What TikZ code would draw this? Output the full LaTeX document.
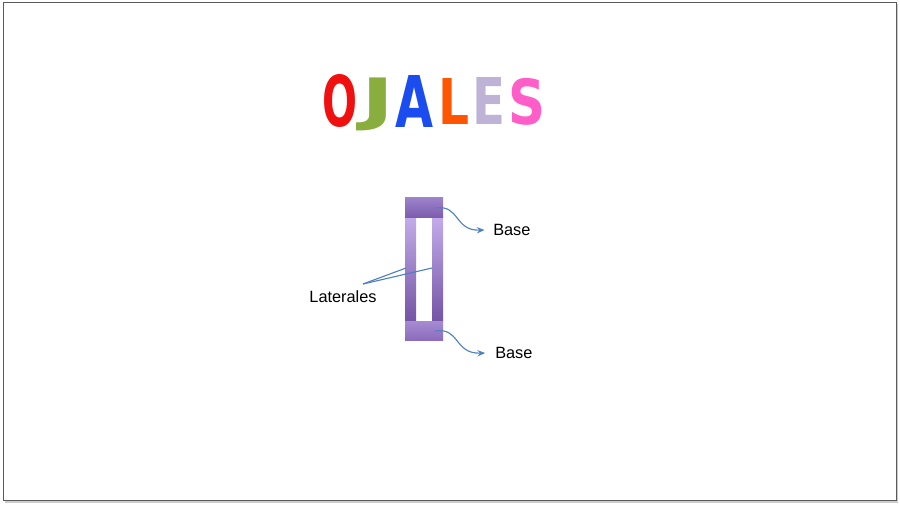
\documentclass[tikz,border=0pt]{standalone}
\usepackage{fontspec}
\usepackage{tikz}
\usetikzlibrary{arrows.meta}
\setmainfont{Liberation Sans}
\newfontfamily\titlefont{DejaVu Sans}

\definecolor{flecha}{HTML}{4F81BD}
\definecolor{marco}{HTML}{5A5A5A}

\begin{document}
\begin{tikzpicture}[x=0.025cm, y=-0.025cm,
    letra/.style={font=\titlefont\bfseries, inner sep=0pt, anchor=north west},
    etiqueta/.style={font=\fontsize{11.6}{13}\selectfont, inner sep=0pt},
    flechab/.style={flecha, thick, -{Stealth[length=5.5pt, width=4.5pt]}},
    linea/.style={flecha, thick}]
    \useasboundingbox (0, 0) rectangle (900, 506);
    \fill [gray!40] (5, 4) rectangle (898, 503);
    \draw [marco, fill=white] (3, 2) rectangle (896, 500);

    % titulo
    \node (o) [letra, text={rgb,255:red,240;green,16;blue,16}] at (322, 74) {\resizebox*{0.875cm}{1.325cm}{O}};
    \node (j) [letra, text={rgb,255:red,138;green,174;blue,62}] at (361, 78) {\resizebox*{0.825cm}{1.325cm}{J}};
    \node (a) [letra, text={rgb,255:red,26;green,76;blue,240}] at (395, 75) {\resizebox*{0.95cm}{1.3cm}{A}};
    \node (l) [letra, text={rgb,255:red,255;green,85;blue,0}] at (438, 78) {\resizebox*{0.775cm}{1.15cm}{L}};
    \node (e) [letra, text={rgb,255:red,190;green,179;blue,214}] at (472, 77) {\resizebox*{0.825cm}{1.175cm}{E}};
    \node (s) [letra, text={rgb,255:red,255;green,94;blue,200}] at (508, 78) {\resizebox*{0.925cm}{1.175cm}{S}};

    % ojal
    \shade [top color={rgb,255:red,196;green,173;blue,234}, bottom color={rgb,255:red,116;green,84;blue,166}] (405, 216) rectangle (416, 321);
    \shade [top color={rgb,255:red,196;green,173;blue,234}, bottom color={rgb,255:red,116;green,84;blue,166}] (432, 216) rectangle (443, 321);
    \shade [top color={rgb,255:red,158;green,132;blue,204}, bottom color={rgb,255:red,125;green,93;blue,174}] (405, 197) rectangle (443, 217);
    \shade [top color={rgb,255:red,166;green,140;blue,210}, bottom color={rgb,255:red,139;green,108;blue,188}] (405, 321) rectangle (443, 340);

    \coordinate (supBase) at (435, 208);
    \coordinate (infBase) at (435, 331);
    \coordinate (latIzq) at (406, 268);
    \coordinate (latDer) at (432, 268);
    \coordinate (latUnion) at (363, 284);

    % textos
    \node (base1) [etiqueta, anchor=west] at (493, 230) {Base};
    \node (base2) [etiqueta, anchor=west] at (495, 353) {Base};
    \node (lat) [etiqueta] at (343, 297) {Laterales};

    % flechas
    \draw [flechab] (supBase) .. controls (460, 204) and (454, 231) .. ([xshift=-6]base1.west);
    \draw [flechab] (infBase) .. controls (460, 327) and (454, 354) .. ([xshift=-7]base2.west);
    \draw [linea] (latUnion) -- (latIzq);
    \draw [linea] (latUnion) -- (latDer);
\end{tikzpicture}
\end{document}
